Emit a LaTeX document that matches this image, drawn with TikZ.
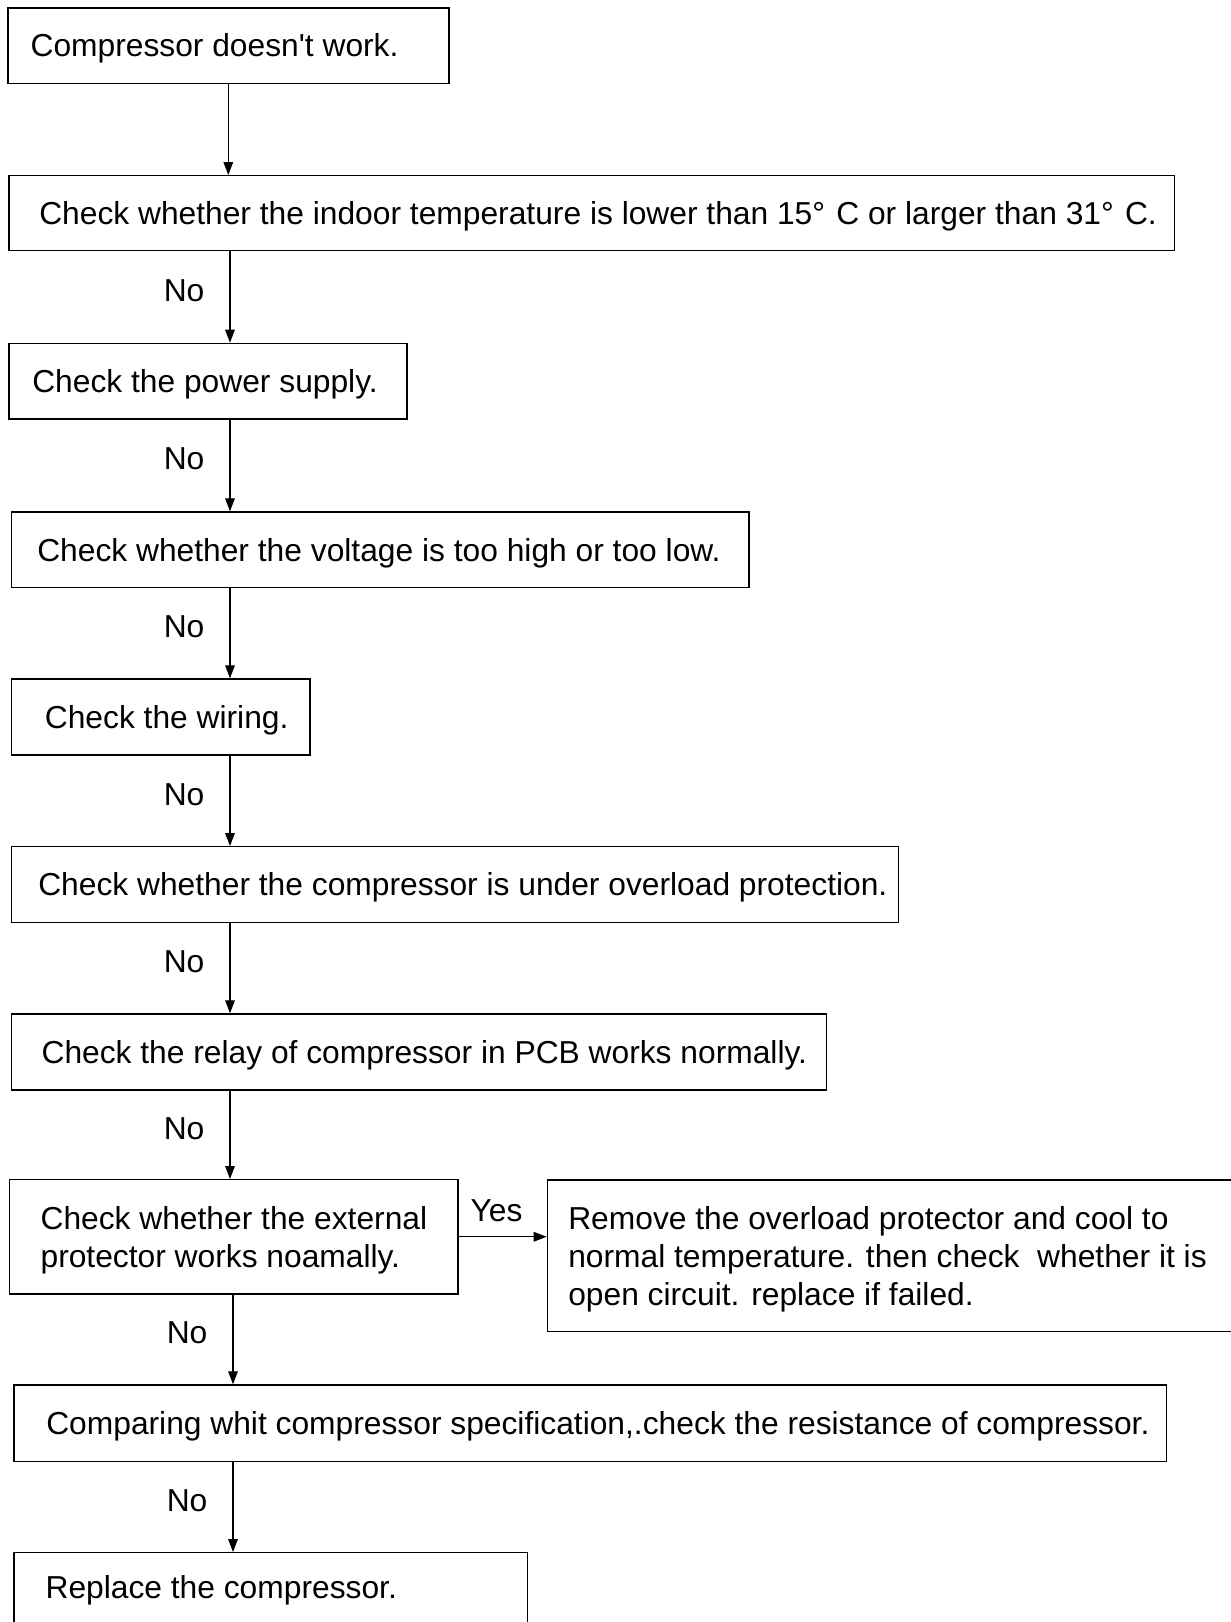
\documentclass[tikz,border=0pt]{standalone}
\usepackage{fontspec}
\setmainfont{Liberation Sans}[Ligatures=TeXOff]
\usetikzlibrary{arrows.meta}
\newcommand\flowfont{\fontsize{15.88pt}{18.9pt}\selectfont}
\newcommand\bxc[3]{\makebox[#1pt][l]{\hspace*{#2pt}#3}}
\tikzset{
  box/.style={draw=black, line width=0.6pt, rectangle, inner sep=0pt,
    anchor=north west, text depth=0pt, font=\flowfont},
  oneline/.style={text height=11.3pt},
  arr/.style={line width=0.6pt, -{Triangle[length=6.5pt,width=4.8pt]}},
  lbl/.style={font=\flowfont, inner sep=0pt, text height=11.3pt, text depth=0pt},
  nolbl/.style={lbl, anchor=east, xshift=-12.5pt, yshift=3.4pt},
  yeslbl/.style={lbl, xshift=-3pt, yshift=13.3pt},
}
\begin{document}
\begin{tikzpicture}[x=0.5pt,y=-0.5pt]
\path[use as bounding box, fill=white] (0,0) rectangle (1231,1622);

\node[box, oneline, minimum height=37.7pt] (B1) at (7.3,7.3)
  {\bxc{220.5}{11.35}{Compressor doesn't work.}};
\node[box, oneline, minimum height=37.5pt] (B2) at (8.3,175)
  {\bxc{582.85}{15.2}{Check whether the indoor temperature is lower than 15°\hspace{1.2pt} C or larger than 31°\hspace{1.2pt} C.}};
\node[box, oneline, minimum height=37.8pt] (B3) at (8.3,342.7)
  {\bxc{199}{11.7}{Check the power supply.}};
\node[box, oneline, minimum height=37.85pt] (B4) at (10.7,511.3)
  {\bxc{368.8}{13}{Check whether the voltage is too high or too low.}};
\node[box, oneline, minimum height=38pt] (B5) at (10.7,678.3)
  {\bxc{149.3}{16.8}{Check the wiring.}};
\node[box, oneline, minimum height=38pt] (B6) at (10.7,846)
  {\bxc{443.5}{13.5}{Check whether the compressor is under overload protection.}};
\node[box, oneline, minimum height=38pt] (B7) at (10.7,1013.3)
  {\bxc{407.4}{15.15}{Check the relay of compressor in PCB works normally.}};
\node[box, minimum height=57.15pt] (B8) at (9,1179)
  {\bxc{224.15}{15.5}{\vbox{\hbox{Check whether the external}\hbox{protector works noamally.}}}};
\node[box, minimum height=75.85pt] (B9) at (546.7,1179.3)
  {\bxc{351.65}{10.5}{\vbox{\hbox{Remove the overload protector and cool to}\hbox{normal temperature. then check~ whether it is}\hbox{open circuit. replace if failed.}}}};
\node[box, oneline, minimum height=38.2pt] (B10) at (13.3,1384.3)
  {\bxc{576.2}{16.2}{Comparing whit compressor specification,.check the resistance of compressor.}};
\node[box, text height=8pt, minimum height=38pt] (B11) at (13.3,1552)
  {\bxc{256.65}{15.85}{Replace the compressor.}};

\coordinate (cA) at (228.3,0);
\coordinate (cB) at (230,0);
\coordinate (cC) at (233,0);

\draw[arr] (B1.south -| cA) -- (B2.north -| cA);
\draw[arr] (B2.south -| cB) -- node[nolbl]{No} (B3.north -| cB);
\draw[arr] (B3.south -| cB) -- node[nolbl]{No} (B4.north -| cB);
\draw[arr] (B4.south -| cB) -- node[nolbl]{No} (B5.north -| cB);
\draw[arr] (B5.south -| cB) -- node[nolbl]{No} (B6.north -| cB);
\draw[arr] (B6.south -| cB) -- node[nolbl]{No} (B7.north -| cB);
\draw[arr] (B7.south -| cB) -- node[nolbl]{No} (B8.north -| cB);
\draw[arr] (B8.east) -- node[yeslbl]{Yes} (B8.east -| B9.west);
\draw[arr] (B8.south -| cC) -- node[nolbl]{No} (B10.north -| cC);
\draw[arr] (B10.south -| cC) -- node[nolbl]{No} (B11.north -| cC);
\end{tikzpicture}
\end{document}
